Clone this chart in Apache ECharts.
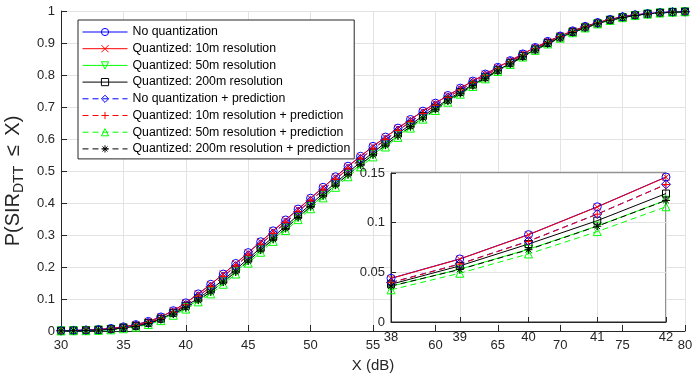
<!DOCTYPE html>
<html><head><meta charset="utf-8">
<script src="https://cdn.jsdelivr.net/npm/echarts@6/dist/echarts.min.js"></script>
<style>html,body{margin:0;padding:0;background:#fff}#c{width:692px;height:380px}</style>
</head><body><div id="c"></div>
<script>
const xs = [30,31,32,33,34,35,36,37,38,39,40,41,42,43,44,45,46,47,48,49,50,51,52,53,54,55,56,57,58,59,60,61,62,63,64,65,66,67,68,69,70,71,72,73,74,75,76,77,78,79,80];
const noQuant = [0.001,0.002,0.003,0.005,0.008,0.013,0.020,0.030,0.044,0.0635,0.088,0.116,0.146,0.178,0.211,0.245,0.279,0.313,0.347,0.381,0.415,0.449,0.482,0.515,0.546,0.577,0.606,0.634,0.661,0.687,0.712,0.736,0.759,0.781,0.803,0.824,0.845,0.866,0.886,0.905,0.922,0.938,0.952,0.964,0.974,0.982,0.988,0.992,0.995,0.997,0.998];
const q10 = [0.001,0.002,0.003,0.005,0.008,0.013,0.020,0.030,0.0438,0.0633,0.0878,0.1158,0.1458,0.1777,0.2107,0.2447,0.2787,0.3127,0.3467,0.3807,0.4147,0.4487,0.4817,0.5147,0.5457,0.5767,0.6057,0.6337,0.6607,0.6867,0.7117,0.7357,0.7587,0.7808,0.8028,0.8238,0.8448,0.8658,0.8858,0.9049,0.9219,0.9379,0.9519,0.9639,0.9739,0.9819,0.9879,0.9919,0.9949,0.9969,0.9979];
const q50 = [0.0005,0.0011,0.0016,0.003,0.005,0.0088,0.0145,0.0232,0.036,0.0531,0.0732,0.0966,0.1226,0.153,0.185,0.219,0.253,0.287,0.321,0.355,0.389,0.423,0.456,0.489,0.520,0.551,0.581,0.610,0.639,0.666,0.693,0.719,0.743,0.767,0.790,0.813,0.835,0.857,0.878,0.898,0.916,0.933,0.9475,0.9602,0.971,0.9795,0.986,0.9905,0.994,0.9963,0.9976];
const q200 = [0.0006,0.0013,0.002,0.0034,0.0057,0.0098,0.0158,0.025,0.038,0.0565,0.0785,0.102,0.1293,0.160,0.192,0.226,0.260,0.294,0.328,0.362,0.396,0.430,0.463,0.496,0.527,0.558,0.588,0.617,0.645,0.672,0.698,0.723,0.747,0.770,0.793,0.815,0.837,0.859,0.880,0.900,0.9175,0.934,0.9485,0.961,0.9715,0.980,0.9865,0.9909,0.9942,0.9965,0.9977];
const noQuantP = [0.0007,0.0015,0.0022,0.0038,0.0063,0.0107,0.017,0.0264,0.0398,0.0585,0.0815,0.1087,0.1386,0.1704,0.203,0.237,0.271,0.305,0.339,0.373,0.407,0.441,0.474,0.507,0.538,0.569,0.5982,0.6265,0.6538,0.680,0.7055,0.730,0.7535,0.776,0.7985,0.820,0.8415,0.863,0.8833,0.9026,0.920,0.9362,0.9505,0.9628,0.973,0.9812,0.9874,0.9915,0.9946,0.9967,0.9978];
const q10P = [0.0007,0.0015,0.0022,0.0038,0.0063,0.0106,0.0169,0.0262,0.0396,0.0583,0.0812,0.1085,0.1384,0.1702,0.2028,0.2368,0.2708,0.3048,0.3388,0.3728,0.4068,0.4408,0.4738,0.5068,0.5378,0.5688,0.598,0.6263,0.6536,0.6798,0.7053,0.7298,0.7533,0.7758,0.7983,0.8198,0.8413,0.8628,0.8831,0.9024,0.9198,0.936,0.9503,0.9626,0.9728,0.981,0.9872,0.9913,0.9944,0.9965,0.9977];
const q50P = [0.0003,0.0008,0.001,0.002,0.0037,0.007,0.0122,0.0202,0.0324,0.0491,0.0685,0.091,0.116,0.146,0.178,0.212,0.246,0.280,0.314,0.348,0.382,0.416,0.449,0.482,0.513,0.544,0.575,0.605,0.634,0.662,0.689,0.715,0.740,0.764,0.788,0.811,0.833,0.856,0.877,0.897,0.915,0.932,0.947,0.9597,0.9705,0.9792,0.9858,0.9903,0.9938,0.9962,0.9975];
const q200P = [0.0005,0.0011,0.0016,0.003,0.005,0.0087,0.0144,0.0231,0.0362,0.0529,0.0728,0.0964,0.1224,0.1528,0.1848,0.2188,0.2528,0.2868,0.3208,0.3548,0.3888,0.4228,0.4558,0.4888,0.5198,0.5508,0.5808,0.6098,0.6388,0.6658,0.6928,0.7188,0.7428,0.7668,0.7898,0.8128,0.8348,0.8568,0.8778,0.8978,0.9158,0.9328,0.9473,0.96,0.9708,0.9794,0.9859,0.9904,0.9939,0.9962,0.9976];

const seriesNames = ['No quantization','Quantized: 10m resolution','Quantized: 50m resolution','Quantized: 200m resolution','No quantization + prediction','Quantized: 10m resolution + prediction','Quantized: 50m resolution + prediction','Quantized: 200m resolution + prediction'];
const seriesData = [noQuant,q10,q50,q200,noQuantP,q10P,q50P,q200P];
const xTicksMain = {min:30,max:80,interval:5};
const yTicksMain = {min:0,max:1,interval:0.1};
const xTicksInset = {min:38,max:42,interval:1};
const yTicksInset = {min:0,max:0.15,interval:0.05};

const colors = ['#0000ff','#ff0000','#00ff00','#000000','#0000ff','#ff0000','#00ff00','#000000'];
const dashed = [false,false,false,false,true,true,true,true];
const symbols = [
  'circle',
  'path://M0,0L1,1M1,0L0,1',
  'path://M0,0L1,0L0.5,1Z',
  'rect',
  'path://M0.5,0L1,0.5L0.5,1L0,0.5Z',
  'path://M0.5,0L0.5,1M0,0.5L1,0.5',
  'path://M0.5,0L1,1L0,1Z',
  'path://M0.5,0L0.5,1M0,0.5L1,0.5M0.15,0.15L0.85,0.85M0.85,0.15L0.15,0.85'
];
const symSizes = [8,7,8,7,9,8,8,8];

const chart = echarts.init(document.getElementById('c'), null, {renderer:'canvas'});
const txt = '#262626';
const font = 'Liberation Sans, Arial, Helvetica, sans-serif';
const dash = [6,4];

function mkSeries(i, grid) {
  let data = xs.map((x,k)=>[x, seriesData[i][k]]);
  if (grid === 1) data = data.filter(d => d[0] >= 38 && d[0] <= 42);
  return {
    name: seriesNames[i], type:'line', xAxisIndex:grid, yAxisIndex:grid,
    data, symbol: symbols[i], symbolSize: symSizes[i], showSymbol:true,
    lineStyle:{color:colors[i], width:1, type: dashed[i] ? dash : 'solid'},
    itemStyle:{color:'rgba(0,0,0,0)', borderColor:colors[i], borderWidth:1},
    emphasis:{disabled:true}, animation:false, clip:true, z: 3 + (grid*10)
  };
}
const series = [];
for (let i=0;i<8;i++) series.push(mkSeries(i,0));
for (let i=0;i<8;i++) series.push(mkSeries(i,1));

const legendData = seriesNames.map((n,i)=>({
  name:n,
  itemStyle:{color:'rgba(0,0,0,0)', borderColor:colors[i], borderWidth:1},
  lineStyle:{color:colors[i], width:1, type: dashed[i] ? dash : 'solid'}
}));

const axLine = {show:true, lineStyle:{color:txt, width:1}};
const gridLine = {show:true, lineStyle:{color:'#e3e3e3', width:1}};
chart.setOption({
  backgroundColor:'#fff',
  textStyle:{fontFamily:font},
  grid:[
    {left:61, top:11, width:624, height:320, show:false, containLabel:false, outerBoundsMode:'none'},
    {left:391, top:173, width:275, height:149, show:true, backgroundColor:'#fff', borderColor:txt, borderWidth:1, z:5, containLabel:false, outerBoundsMode:'none'}
  ],
  xAxis:[
    {type:'value', gridIndex:0, ...xTicksMain, axisLine:axLine, axisTick:{inside:true, length:6, lineStyle:{color:txt}},
     axisLabel:{color:txt, fontSize:13, margin:8, fontFamily:font}, splitLine:gridLine,
     name:'X (dB)', nameLocation:'middle', nameGap:27, nameTextStyle:{color:txt, fontSize:15, fontFamily:font}},
    {type:'value', gridIndex:1, ...xTicksInset, axisLine:axLine, axisTick:{inside:true, length:5, lineStyle:{color:txt}},
     axisLabel:{color:txt, fontSize:13, margin:9, fontFamily:font}, splitLine:gridLine, z:6}
  ],
  yAxis:[
    {type:'value', gridIndex:0, ...yTicksMain, axisLine:axLine, axisTick:{show:true, inside:true, length:6, lineStyle:{color:txt}},
     axisLabel:{color:txt, fontSize:13, margin:6, fontFamily:font}, splitLine:gridLine,
     name:'{a|P(SIR}{s|DTT}{a| \u2009≤\u2009 X)}', nameLocation:'middle', nameGap:27, nameRotate:90,
     nameTextStyle:{color:txt, fontFamily:font, padding:[0,20,0,0], rich:{
       a:{fontSize:20, color:txt, fontFamily:font, lineHeight:26, verticalAlign:'middle'},
       s:{fontSize:14, color:txt, fontFamily:font, lineHeight:26, verticalAlign:'bottom'}}}},
    {type:'value', gridIndex:1, ...yTicksInset, axisLine:axLine, axisTick:{show:true, inside:true, length:5, lineStyle:{color:txt}},
     axisLabel:{color:txt, fontSize:13, margin:6, fontFamily:font}, splitLine:gridLine, z:6}
  ],
  legend:{
    data:legendData, orient:'vertical', left:78, top:20,
    itemWidth:45, itemHeight:9, itemGap:0.7,
    padding:[4,4,2,4], backgroundColor:'#fff', borderColor:txt, borderWidth:1,
    textStyle:{color:'#000', fontSize:12.3, lineHeight:16, fontFamily:font},
    selectedMode:false, z:20
  },
  series
});
</script></body></html>
